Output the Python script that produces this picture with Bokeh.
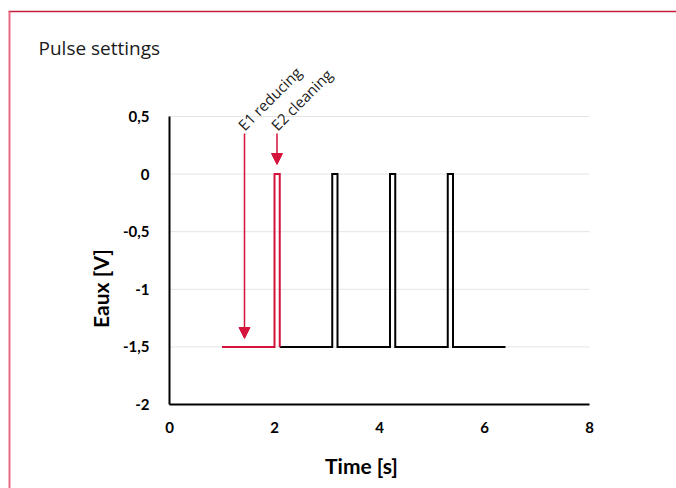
from bokeh.plotting import figure
from bokeh.models import Range1d, Label, Arrow, NormalHead, FixedTicker
from bokeh.embed import file_html
from bokeh.resources import INLINE

# ---- data ----
red_t = [1.0, 2.0, 2.0, 2.1, 2.1]
red_v = [-1.5, -1.5, 0.0, 0.0, -1.5]
black_t = [2.1, 3.1, 3.1, 3.2, 3.2, 4.2, 4.2, 4.3, 4.3, 5.3, 5.3, 5.4, 5.4, 6.4]
black_v = [-1.5, -1.5, 0.0, 0.0, -1.5, -1.5, 0.0, 0.0, -1.5, -1.5, 0.0, 0.0, -1.5, -1.5]
x_ticks = [0, 2, 4, 6, 8]
y_ticks = [0.5, 0.0, -0.5, -1.0, -1.5, -2.0]
y_tick_labels = ["0,5", "0", "-0,5", "-1", "-1,5", "-2"]
title_text = "Pulse settings"
x_label = "Time [s]"
y_label = "Eaux [V]"
ann_texts = ["E1 reducing", "E2 cleaning"]

RED = "#d5123b"
X_MIN, X_MAX = 0, 8
Y_MIN, Y_MAX = -2, 0.5

# page-pixel -> data helpers (layout only)
FX0, FX1, FY0, FY1 = 169.0, 589.0, 116.0, 404.0
def dx(X):
    return X_MIN + (X - FX0) * (X_MAX - X_MIN) / (FX1 - FX0)
def dy(Y):
    return Y_MAX - (Y - FY0) * (Y_MAX - Y_MIN) / (FY1 - FY0)

W, H = 676, 488
OX, OY = 0, 0
p = figure(width=W, height=H, output_backend="svg", toolbar_location=None,
           x_range=Range1d(dx(OX), dx(OX + W)), y_range=Range1d(dy(OY + H), dy(OY)),
           min_border=0, min_border_left=0, min_border_right=0,
           min_border_top=0, min_border_bottom=0)
p.background_fill_color = "white"
p.border_fill_color = "white"
p.outline_line_color = None
p.xgrid.grid_line_color = None
p.ygrid.grid_line_color = None

# card border (top and left edges)
p.segment(x0=[dx(8), dx(9)], y0=[dy(11), dy(11)], x1=[dx(OX + W), dx(9)], y1=[dy(11), dy(OY + H)],
          line_color=["#c41e3a", "#e86a82"], line_width=[1.5, 2])

# horizontal grid lines
p.segment(x0=[X_MIN] * len(y_ticks), y0=y_ticks, x1=[X_MAX] * len(y_ticks), y1=y_ticks,
          line_color="#e4e4e4", line_width=1)

for ax in (p.xaxis[0], p.yaxis[0]):
    ax.axis_line_width = 2
    ax.axis_line_color = "black"
    ax.major_tick_line_color = None
    ax.minor_tick_line_color = None
    ax.major_tick_out = 0
    ax.major_tick_in = 0
    ax.major_label_text_font = "Lato"
    ax.major_label_text_font_style = "bold"
    ax.major_label_text_font_size = "15px"
    ax.major_label_text_color = "black"

p.xaxis.ticker = FixedTicker(ticks=x_ticks)
p.yaxis.ticker = FixedTicker(ticks=y_ticks)
p.xaxis.fixed_location = Y_MIN
p.yaxis.fixed_location = X_MIN
p.xaxis.bounds = (X_MIN, X_MAX)
p.yaxis.bounds = (Y_MIN, Y_MAX)
p.yaxis.major_label_overrides = {t: l for t, l in zip(y_ticks, y_tick_labels)}
p.yaxis.major_label_standoff = 20
p.xaxis.major_label_standoff = 17

p.line(black_t, black_v, line_color="black", line_width=2, line_join="miter")
p.line(red_t, red_v, line_color=RED, line_width=2, line_join="miter")

# arrows
p.add_layout(Arrow(x_start=dx(244), y_start=dy(133), x_end=dx(244), y_end=dy(338),
                   line_color=RED, line_width=1.5,
                   end=NormalHead(size=11, fill_color=RED, line_color=RED, line_width=1)))
p.add_layout(Arrow(x_start=dx(276.5), y_start=dy(133), x_end=dx(276.5), y_end=dy(164),
                   line_color=RED, line_width=1.5,
                   end=NormalHead(size=11, fill_color=RED, line_color=RED, line_width=1)))

# rotated annotation texts
for tx, xx in zip(ann_texts, [240, 273]):
    p.add_layout(Label(x=dx(xx), y=dy(127), text=tx, angle=45, angle_units="deg",
                       text_font="Open Sans", text_font_size="15px",
                       text_color="#1a1a1a", text_align="left",
                       text_baseline="alphabetic"))

# title and axis labels
p.add_layout(Label(x=dx(38), y=dy(47), text=title_text, text_font="Open Sans",
                   text_font_size="19px", text_color="#1a1a1a",
                   text_align="left", text_baseline="middle"))
p.add_layout(Label(x=dx(361), y=dy(465), text=x_label, text_font="Lato",
                   text_font_style="bold", text_font_size="21px", text_color="black",
                   text_align="center", text_baseline="middle"))
p.add_layout(Label(x=dx(100), y=dy(288), text=y_label, text_font="Lato",
                   text_font_style="bold", text_font_size="21px", text_color="black",
                   text_align="center", text_baseline="middle", angle=90,
                   angle_units="deg"))

open("out.html", "w").write(file_html(p, INLINE))
